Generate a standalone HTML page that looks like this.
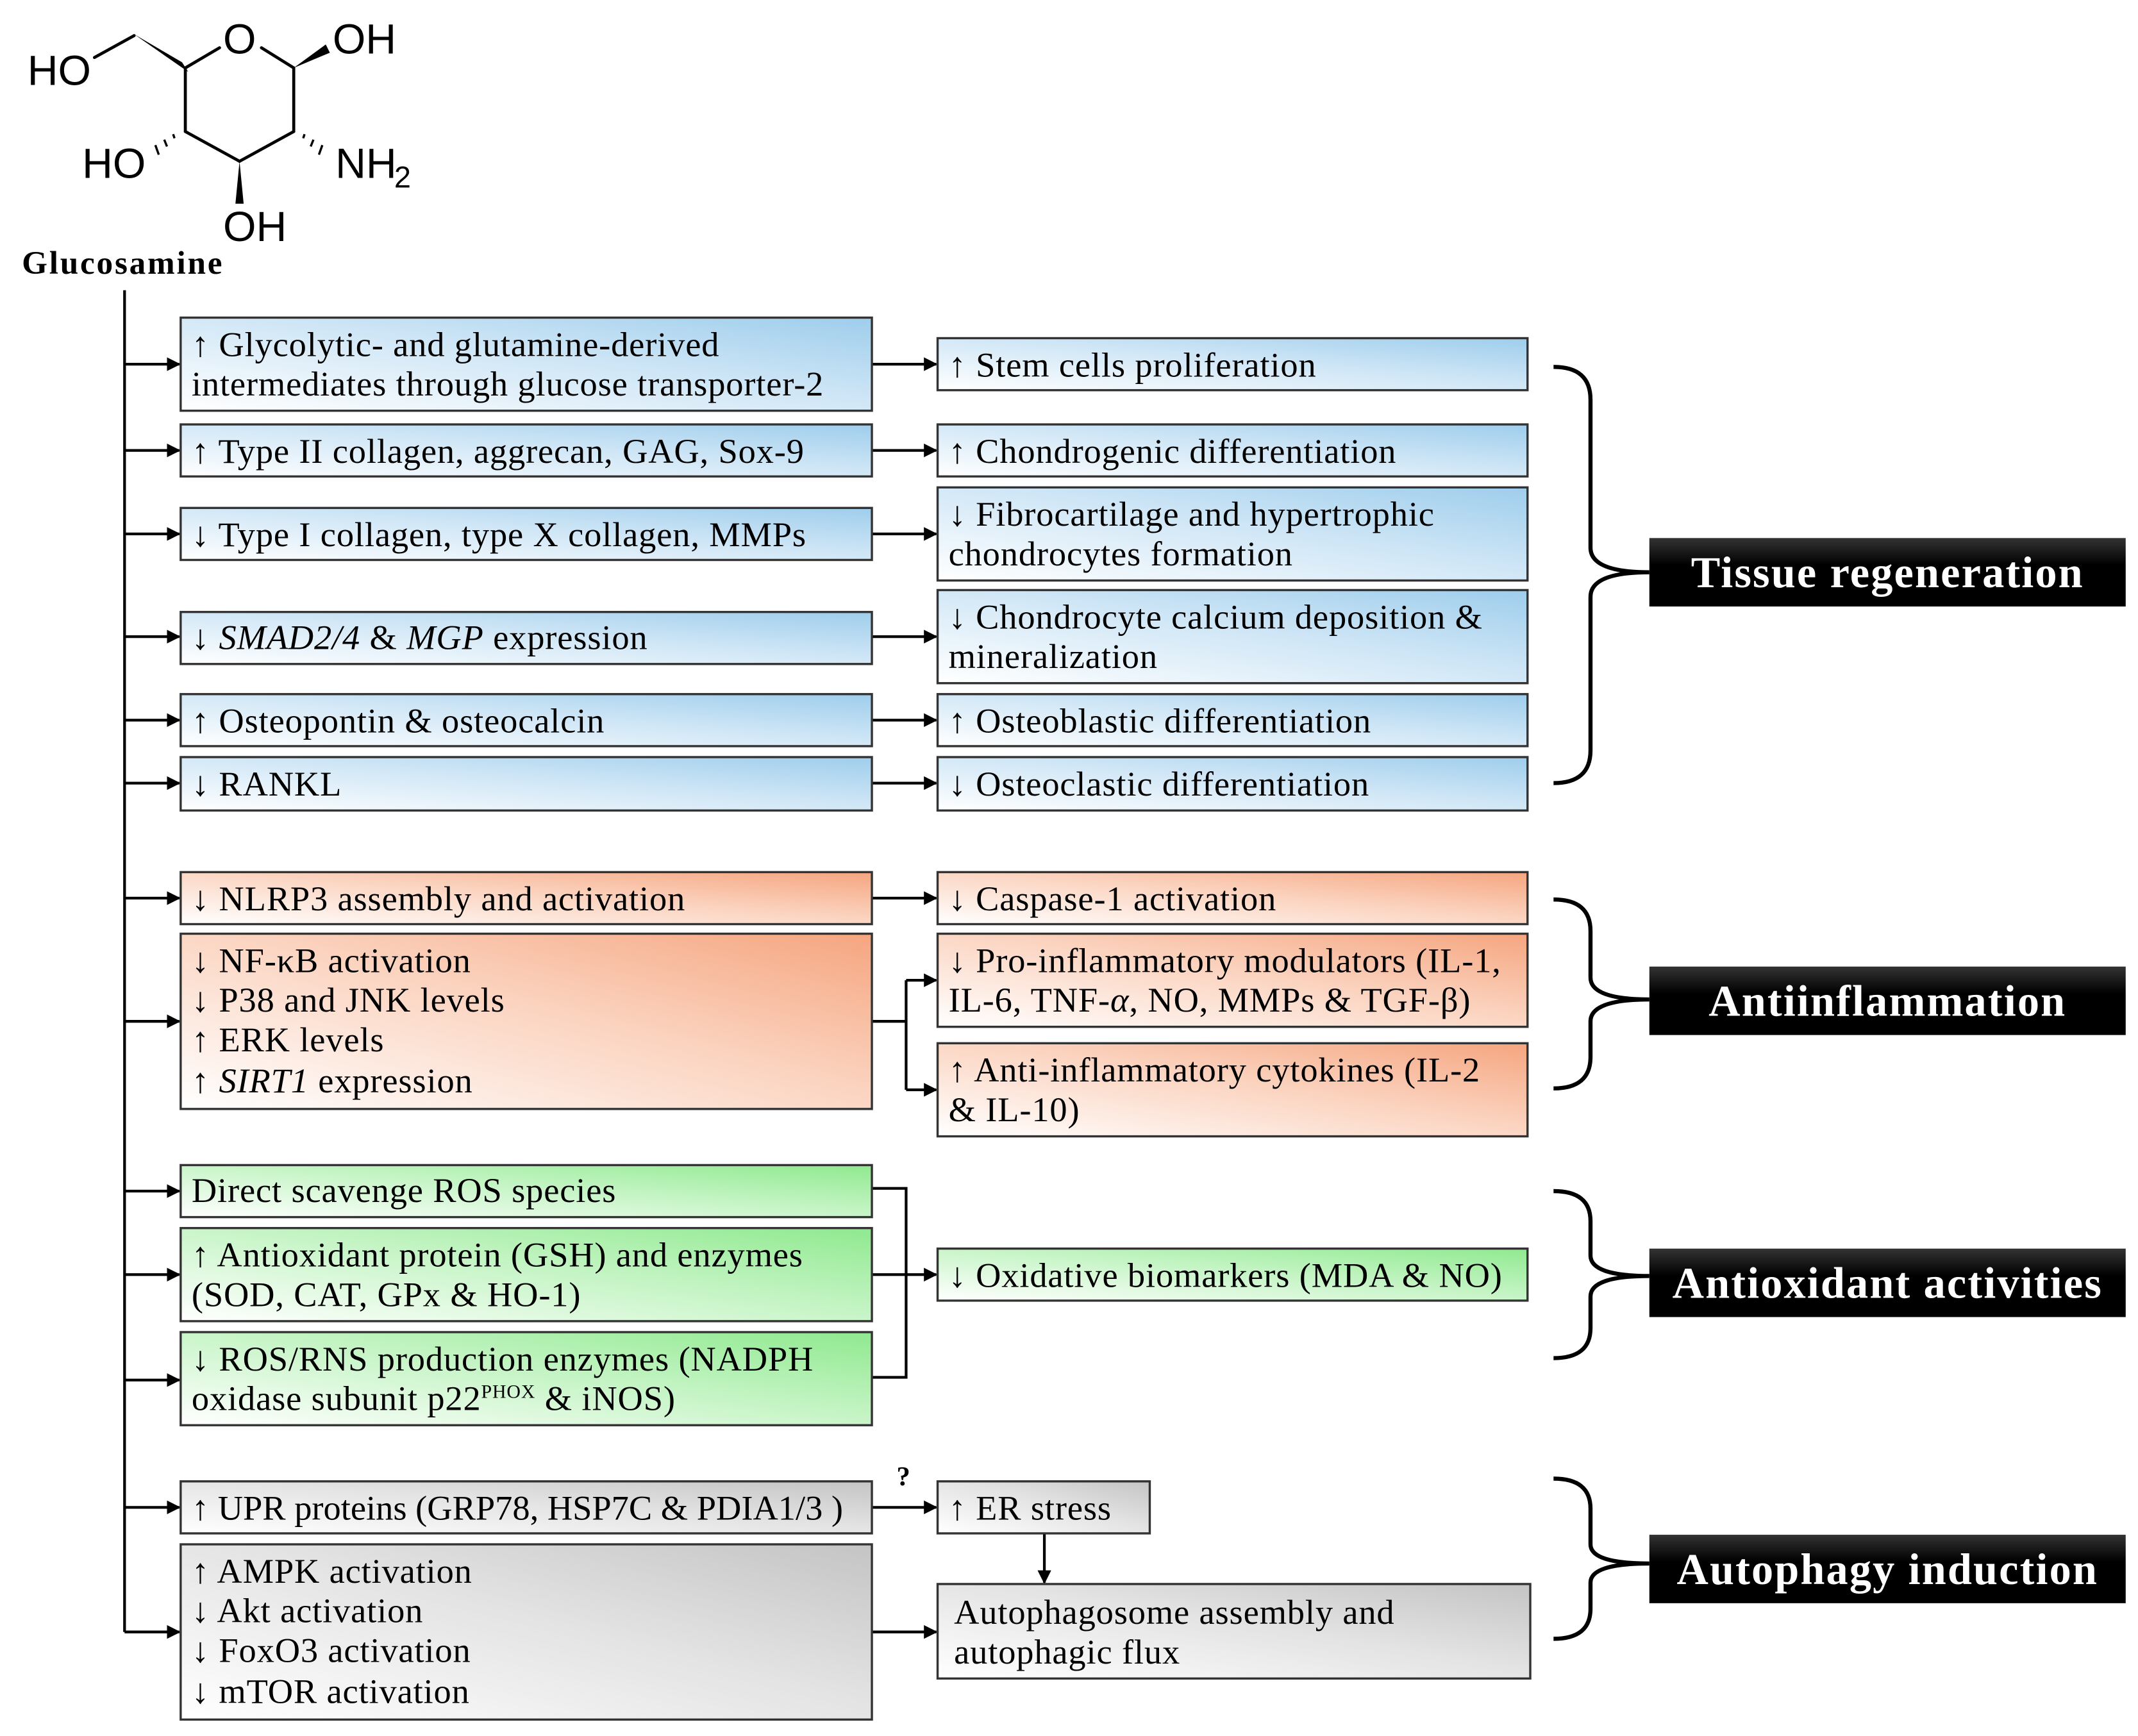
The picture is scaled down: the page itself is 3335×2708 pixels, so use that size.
<!DOCTYPE html>
<html><head><meta charset="utf-8"><style>html,body{margin:0;padding:0;background:#fff}svg{display:block}</style></head>
<body>
<svg xmlns="http://www.w3.org/2000/svg" width="3335" height="2708" viewBox="0 0 1562 1268" preserveAspectRatio="none">
<defs>
<linearGradient id="gb" x1="0" y1="1" x2="1" y2="0"><stop offset="0" stop-color="#ffffff"/><stop offset="0.55" stop-color="#cfe6f6"/><stop offset="1" stop-color="#9ecdec"/></linearGradient>
<linearGradient id="go" x1="0" y1="1" x2="1" y2="0"><stop offset="0" stop-color="#ffffff"/><stop offset="0.55" stop-color="#fbd3bf"/><stop offset="1" stop-color="#f5a57f"/></linearGradient>
<linearGradient id="gg" x1="0" y1="1" x2="1" y2="0"><stop offset="0" stop-color="#ffffff"/><stop offset="0.55" stop-color="#c4f4c4"/><stop offset="1" stop-color="#8fe98f"/></linearGradient>
<linearGradient id="gy" x1="0" y1="1" x2="1" y2="0"><stop offset="0" stop-color="#ffffff"/><stop offset="0.55" stop-color="#e3e3e3"/><stop offset="1" stop-color="#c4c4c4"/></linearGradient>
<linearGradient id="gk" x1="0" y1="0" x2="0" y2="1"><stop offset="0" stop-color="#333"/><stop offset="0.4" stop-color="#000"/></linearGradient>
<marker id="ar" markerWidth="10" markerHeight="10" refX="9" refY="5" orient="auto" markerUnits="userSpaceOnUse"><path d="M0,0 L10,5 L0,10 Z" fill="#000"/></marker>
</defs>

<g stroke="#000" stroke-width="2.2" fill="none" stroke-linecap="round">
<line x1="69" y1="42" x2="98" y2="26"/>
<line x1="135.4" y1="49.6" x2="160.4" y2="34.9"/>
<line x1="191" y1="34.9" x2="214.6" y2="49.6"/>
<line x1="214.6" y1="49.6" x2="214.6" y2="96.1"/>
<line x1="214.6" y1="96.1" x2="175" y2="117.8"/>
<line x1="175" y1="117.8" x2="135.4" y2="96.1"/>
<line x1="135.4" y1="96.1" x2="135.4" y2="49.6"/>
</g>
<path d="M98,25 L133,45.5 L137.5,52.5 Z" fill="#000"/>
<path d="M214.6,49.6 L238,32.5 L241,38.5 Z" fill="#000"/>
<path d="M175,117.8 L172,148.8 L178,148.8 Z" fill="#000"/>
<g stroke="#000" stroke-width="1.6">
<line x1="126.5" y1="98" x2="127.5" y2="101"/><line x1="120" y1="102" x2="122" y2="107"/><line x1="113.5" y1="106" x2="116" y2="113"/>
<line x1="222.5" y1="98" x2="221.5" y2="101"/><line x1="229" y1="102" x2="227" y2="107"/><line x1="235.5" y1="106" x2="233" y2="113"/>
</g>
<g font-family="'Liberation Sans', sans-serif" font-size="31" fill="#000">
<text x="20" y="62">HO</text>
<text x="163" y="39">O</text>
<text x="243" y="39">OH</text>
<text x="60" y="130">HO</text>
<text x="245" y="130">NH</text>
<text x="288" y="137" font-size="22">2</text>
<text x="163" y="176">OH</text>
</g>
<text x="16" y="200" font-family="'Liberation Serif', serif" font-weight="bold" font-size="24" letter-spacing="1.3">Glucosamine</text>

<g stroke="#000" stroke-width="2" fill="none">
<line x1="91" y1="212" x2="91" y2="1192"/>
<line x1="91" y1="266" x2="131" y2="266" marker-end="url(#ar)"/>
<line x1="91" y1="329" x2="131" y2="329" marker-end="url(#ar)"/>
<line x1="91" y1="390" x2="131" y2="390" marker-end="url(#ar)"/>
<line x1="91" y1="465" x2="131" y2="465" marker-end="url(#ar)"/>
<line x1="91" y1="526" x2="131" y2="526" marker-end="url(#ar)"/>
<line x1="91" y1="572" x2="131" y2="572" marker-end="url(#ar)"/>
<line x1="91" y1="656" x2="131" y2="656" marker-end="url(#ar)"/>
<line x1="91" y1="746" x2="131" y2="746" marker-end="url(#ar)"/>
<line x1="91" y1="870" x2="131" y2="870" marker-end="url(#ar)"/>
<line x1="91" y1="931" x2="131" y2="931" marker-end="url(#ar)"/>
<line x1="91" y1="1008" x2="131" y2="1008" marker-end="url(#ar)"/>
<line x1="91" y1="1101" x2="131" y2="1101" marker-end="url(#ar)"/>
<line x1="91" y1="1192" x2="131" y2="1192" marker-end="url(#ar)"/>
<line x1="637" y1="266" x2="684" y2="266" marker-end="url(#ar)"/>
<line x1="637" y1="329" x2="684" y2="329" marker-end="url(#ar)"/>
<line x1="637" y1="390" x2="684" y2="390" marker-end="url(#ar)"/>
<line x1="637" y1="465" x2="684" y2="465" marker-end="url(#ar)"/>
<line x1="637" y1="526" x2="684" y2="526" marker-end="url(#ar)"/>
<line x1="637" y1="572" x2="684" y2="572" marker-end="url(#ar)"/>
<line x1="637" y1="656" x2="684" y2="656" marker-end="url(#ar)"/>
<polyline points="637,746 662,746"/>
<line x1="662" y1="716" x2="662" y2="796"/>
<line x1="662" y1="716" x2="684" y2="716" marker-end="url(#ar)"/>
<line x1="662" y1="796" x2="684" y2="796" marker-end="url(#ar)"/>
<polyline points="637,868 662,868 662,1006 637,1006"/>
<line x1="637" y1="931" x2="684" y2="931" marker-end="url(#ar)"/>
<line x1="637" y1="1101" x2="684" y2="1101" marker-end="url(#ar)"/>
<line x1="763" y1="1120" x2="763" y2="1156" marker-end="url(#ar)"/>
<line x1="637" y1="1192" x2="684" y2="1192" marker-end="url(#ar)"/>
</g>

<g stroke="#333" stroke-width="1.6">
<rect x="132" y="232" width="505" height="68" fill="url(#gb)"/>
<rect x="132" y="310" width="505" height="38" fill="url(#gb)"/>
<rect x="132" y="371" width="505" height="38" fill="url(#gb)"/>
<rect x="132" y="447" width="505" height="38" fill="url(#gb)"/>
<rect x="132" y="507" width="505" height="38" fill="url(#gb)"/>
<rect x="132" y="553" width="505" height="39" fill="url(#gb)"/>
<rect x="685" y="247" width="431" height="38" fill="url(#gb)"/>
<rect x="685" y="310" width="431" height="38" fill="url(#gb)"/>
<rect x="685" y="356" width="431" height="68" fill="url(#gb)"/>
<rect x="685" y="431" width="431" height="68" fill="url(#gb)"/>
<rect x="685" y="507" width="431" height="38" fill="url(#gb)"/>
<rect x="685" y="553" width="431" height="39" fill="url(#gb)"/>
<rect x="132" y="637" width="505" height="38" fill="url(#go)"/>
<rect x="132" y="682" width="505" height="128" fill="url(#go)"/>
<rect x="685" y="637" width="431" height="38" fill="url(#go)"/>
<rect x="685" y="682" width="431" height="68" fill="url(#go)"/>
<rect x="685" y="762" width="431" height="68" fill="url(#go)"/>
<rect x="132" y="851" width="505" height="38" fill="url(#gg)"/>
<rect x="132" y="897" width="505" height="68" fill="url(#gg)"/>
<rect x="132" y="973" width="505" height="68" fill="url(#gg)"/>
<rect x="685" y="912" width="431" height="38" fill="url(#gg)"/>
<rect x="132" y="1082" width="505" height="38" fill="url(#gy)"/>
<rect x="132" y="1128" width="505" height="128" fill="url(#gy)"/>
<rect x="685" y="1082" width="155" height="38" fill="url(#gy)"/>
<rect x="685" y="1157" width="433" height="69" fill="url(#gy)"/>
</g>

<g font-family="'Liberation Serif', serif" font-size="25.5" letter-spacing="0.4" fill="#000">
<text x="140" y="260">↑ Glycolytic- and glutamine-derived</text>
<text x="140" y="289">intermediates through glucose transporter-2</text>
<text x="140" y="338">↑ Type II collagen, aggrecan, GAG, Sox-9</text>
<text x="140" y="399">↓ Type I collagen, type X collagen, MMPs</text>
<text x="140" y="474">↓ <tspan font-style="italic">SMAD2/4</tspan> &amp; <tspan font-style="italic">MGP</tspan> expression</text>
<text x="140" y="535">↑ Osteopontin &amp; osteocalcin</text>
<text x="140" y="581">↓ RANKL</text>
<text x="693" y="275">↑ Stem cells proliferation</text>
<text x="693" y="338">↑ Chondrogenic differentiation</text>
<text x="693" y="384">↓ Fibrocartilage and hypertrophic</text>
<text x="693" y="413">chondrocytes formation</text>
<text x="693" y="459">↓ Chondrocyte calcium deposition &amp;</text>
<text x="693" y="488">mineralization</text>
<text x="693" y="535">↑ Osteoblastic differentiation</text>
<text x="693" y="581">↓ Osteoclastic differentiation</text>
<text x="140" y="665">↓ NLRP3 assembly and activation</text>
<text x="140" y="710">↓ NF-κB activation</text>
<text x="140" y="739">↓ P38 and JNK levels</text>
<text x="140" y="768">↑ ERK levels</text>
<text x="140" y="798">↑ <tspan font-style="italic">SIRT1</tspan> expression</text>
<text x="693" y="665">↓ Caspase-1 activation</text>
<text x="693" y="710">↓ Pro-inflammatory modulators (IL-1,</text>
<text x="693" y="739">IL-6, TNF-<tspan font-style="italic">α</tspan>, NO, MMPs  &amp; TGF-β)</text>
<text x="693" y="790">↑ Anti-inflammatory cytokines (IL-2</text>
<text x="693" y="819">&amp; IL-10)</text>
<text x="140" y="878">Direct scavenge ROS species</text>
<text x="140" y="925">↑ Antioxidant protein (GSH) and enzymes</text>
<text x="140" y="954">(SOD, CAT, GPx &amp; HO-1)</text>
<text x="140" y="1001">↓ ROS/RNS production enzymes (NADPH</text>
<text x="140" y="1030">oxidase subunit p22<tspan font-size="14" dy="-9">PHOX</tspan><tspan dy="9"> &amp; iNOS)</tspan></text>
<text x="693" y="940">↓ Oxidative biomarkers (MDA &amp; NO)</text>
<text x="140" y="1110" letter-spacing="0">↑ UPR proteins (GRP78, HSP7C &amp; PDIA1/3 )</text>
<text x="693" y="1110">↑ ER stress</text>
<text x="140" y="1156">↑ AMPK activation</text>
<text x="140" y="1185">↓ Akt activation</text>
<text x="140" y="1214">↓ FoxO3 activation</text>
<text x="140" y="1244">↓ mTOR activation</text>
<text x="697" y="1186">Autophagosome assembly and</text>
<text x="697" y="1215">autophagic flux</text>
<text x="655" y="1085" font-weight="bold" font-size="20">?</text>
</g>

<g stroke="#000" stroke-width="3" fill="none">
<path d="M1135,268 Q1162,268 1162,292 L1162,400 Q1162,418 1205,418 Q1162,418 1162,436 L1162,548 Q1162,572 1135,572"/>
<path d="M1135,657 Q1162,657 1162,680 L1162,714 Q1162,730 1205,730 Q1162,730 1162,746 L1162,772 Q1162,795 1135,795"/>
<path d="M1135,870 Q1162,870 1162,892 L1162,917 Q1162,932 1205,932 Q1162,932 1162,947 L1162,970 Q1162,992 1135,992"/>
<path d="M1135,1080 Q1162,1080 1162,1102 L1162,1128 Q1162,1142 1205,1142 Q1162,1142 1162,1156 L1162,1175 Q1162,1197 1135,1197"/>
</g>

<g font-family="'Liberation Serif', serif" font-weight="bold" font-size="32" letter-spacing="1" fill="#fff" text-anchor="middle">
<rect x="1205" y="393" width="348" height="50" fill="url(#gk)"/>
<text x="1379" y="429">Tissue regeneration</text>
<rect x="1205" y="706" width="348" height="50" fill="url(#gk)"/>
<text x="1379" y="742">Antiinflammation</text>
<rect x="1205" y="912" width="348" height="50" fill="url(#gk)"/>
<text x="1379" y="948">Antioxidant activities</text>
<rect x="1205" y="1121" width="348" height="50" fill="url(#gk)"/>
<text x="1379" y="1157">Autophagy induction</text>
</g>
</svg>
</body></html>
